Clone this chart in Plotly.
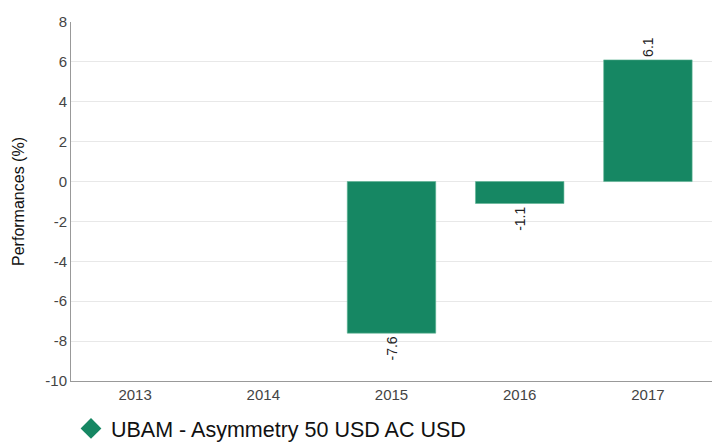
import plotly.graph_objects as go

years = ["2013", "2014", "2015", "2016", "2017"]
perf = [None, None, -7.6, -1.1, 6.1]
labels = ["", "", "-7.6", "-1.1", "6.1"]
y_ticks = [-10, -8, -6, -4, -2, 0, 2, 4, 6, 8]
y_tick_labels = ["-10", "-8", "-6", "-4", "-2", "0", "2", "4", "6", "8"]
series_name = "UBAM - Asymmetry 50 USD AC USD"
green = "#168763"

fig = go.Figure()
fig.add_trace(go.Bar(
    x=years, y=perf, text=labels, textposition="outside", textangle=-90,
    textfont=dict(family="Liberation Sans, Arial", size=14, color="#222"),
    marker=dict(color=green, line=dict(color="#5fb596", width=0.6)),
    width=0.69, showlegend=False, cliponaxis=False,
))
fig.add_trace(go.Scatter(
    x=[None], y=[None], mode="markers", name=series_name,
    marker=dict(symbol="diamond", size=26, color=green),
))
fig.update_layout(
    width=712, height=442,
    margin=dict(l=71, r=0, t=22, b=61, autoexpand=False),
    plot_bgcolor="white", paper_bgcolor="white",
    font=dict(family="Liberation Sans, Arial", color="#444"),
    legend=dict(orientation="h", x=0.0, xanchor="left", y=-0.075, yanchor="top",
                font=dict(size=21.5, color="#111"), itemsizing="trace"),
    yaxis=dict(range=[-10, 8], tickvals=y_ticks, ticktext=y_tick_labels,
               showgrid=True, gridcolor="#e8e8e8",
               zeroline=False, showline=True, linecolor="#999", linewidth=1,
               automargin=False,
               tickfont=dict(size=15, color="#444"),
               title=dict(text="Performances (%)", font=dict(size=16, color="#111"), standoff=16)),
    xaxis=dict(showline=True, linecolor="#999", linewidth=1, ticks="",
               automargin=False,
               tickfont=dict(size=15, color="#444")),
)
fig.write_html("out.html", config={"displayModeBar": False},
               post_script="document.body.style.margin='0';")
